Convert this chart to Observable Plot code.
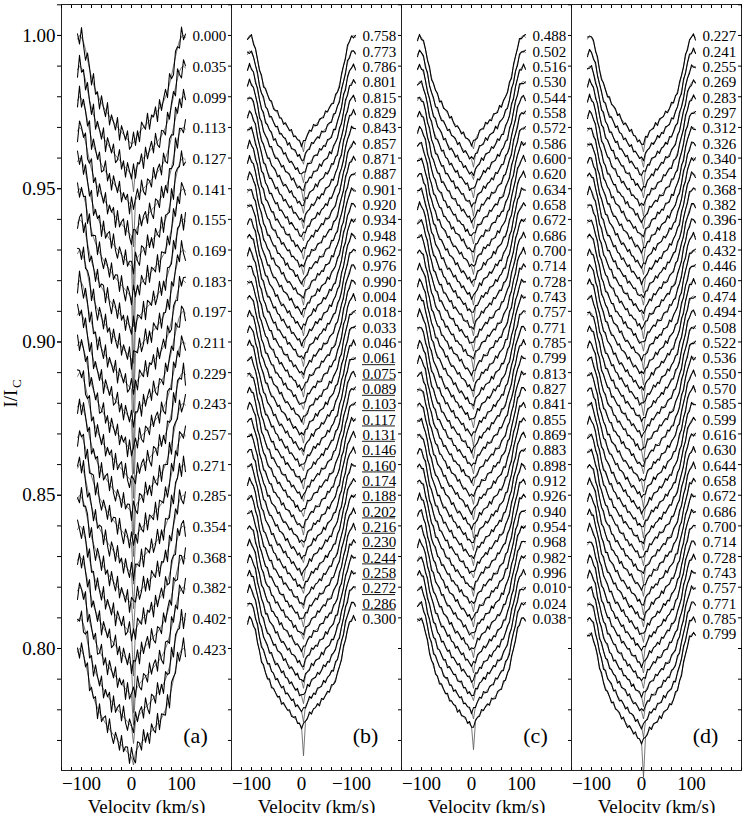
<!DOCTYPE html>
<html><head><meta charset="utf-8">
<script src="https://cdn.jsdelivr.net/npm/d3@7"></script>
<script src="https://cdn.jsdelivr.net/npm/@observablehq/plot@0.6"></script>
<style>
html,body{margin:0;padding:0;background:#fff;}
#wrap{position:relative;width:756px;height:813px;overflow:hidden;background:#fff;}
#wrap svg{position:absolute;top:0;}
</style></head><body><div id="wrap"></div>
<script>
// Velocity grid (km/s)
const velocity = [-108,-104,-100,-96,-92,-88,-84,-80,-76,-72,-68,-64,-60,-56,-52,-48,-44,-40,-36,-32,-28,-24,-20,-16,-12,-8,-4,0,4,8,12,16,20,24,28,32,36,40,44,48,52,56,60,64,68,72,76,80,84,88,92,96,100,104,108];
// Mean line depth below continuum (I/Ic units), read from the profiles
const baseDepth = [0.0012,0.0000,0.0006,0.0022,0.0046,0.0078,0.0110,0.0137,0.0159,0.0178,0.0194,0.0208,0.0221,0.0233,0.0244,0.0254,0.0264,0.0273,0.0282,0.0291,0.0299,0.0307,0.0315,0.0323,0.0331,0.0339,0.0347,0.0354,0.0350,0.0338,0.0325,0.0315,0.0307,0.0299,0.0292,0.0285,0.0278,0.0270,0.0262,0.0254,0.0246,0.0237,0.0227,0.0215,0.0200,0.0182,0.0159,0.0131,0.0100,0.0069,0.0040,0.0017,0.0004,0.0000,0.0006];
// Residual pattern of the observed spectra (relative units)
const noise = [0.5,-0.8,0.9,-0.3,-1.0,0.6,0.2,-0.7,1.0,-0.4,0.3,-0.9,0.7,-0.1,-0.6,1.0,-0.8,0.4,0.0,-0.5,0.9,-1.0,0.6,0.2,-0.3,0.8,-0.7,-0.2,1.0,-0.6,0.4,-0.9,0.7,0.1,-0.4,0.9,-0.8,0.3,-0.1,0.6,-1.0,0.8,-0.5,0.2,0.7,-0.6,1.0,-0.3,-0.8,0.5,0.1,-0.7,0.9,-0.4,0.3];

// Phase labels
const phasesA = ["0.000","0.035","0.099","0.113","0.127","0.141","0.155","0.169","0.183","0.197","0.211","0.229","0.243","0.257","0.271","0.285","0.354","0.368","0.382","0.402","0.423"];
const phasesB = ["0.758","0.773","0.786","0.801","0.815","0.829","0.843","0.857","0.871","0.887","0.901","0.920","0.934","0.948","0.962","0.976","0.990","0.004","0.018","0.033","0.046","0.061","0.075","0.089","0.103","0.117","0.131","0.146","0.160","0.174","0.188","0.202","0.216","0.230","0.244","0.258","0.272","0.286","0.300"];
const phasesC = ["0.488","0.502","0.516","0.530","0.544","0.558","0.572","0.586","0.600","0.620","0.634","0.658","0.672","0.686","0.700","0.714","0.728","0.743","0.757","0.771","0.785","0.799","0.813","0.827","0.841","0.855","0.869","0.883","0.898","0.912","0.926","0.940","0.954","0.968","0.982","0.996","0.010","0.024","0.038"];
const phasesD = ["0.227","0.241","0.255","0.269","0.283","0.297","0.312","0.326","0.340","0.354","0.368","0.382","0.396","0.418","0.432","0.446","0.460","0.474","0.494","0.508","0.522","0.536","0.550","0.570","0.585","0.599","0.616","0.630","0.644","0.658","0.672","0.686","0.700","0.714","0.728","0.743","0.757","0.771","0.785","0.799"];
const underlinedB = ["0.061","0.075","0.089","0.103","0.117","0.131","0.146","0.160","0.174","0.188","0.202","0.216","0.230","0.244","0.258","0.272","0.286"];

// Narrow central component of the model profiles (units of 0.001 I/Ic)
const spikeA = [0,6,14,18,20,22,20,18,20,18,16,18,15,14,12,10,14,16,10,6,3];
const notchB = [3,2,3,4,3,3,2,3,3,2,3,2,3,2,3,2,3,2,2,3,2,2,3,2,2,3,2,2,3,2,2,3,2,3,2,3,3,4,10];
const notchC = [2,3,2,3,4,3,3,4,3,2,3,4,3,3,4,3,3,2,3,4,3,3,2,3,3,4,3,3,2,3,3,3,2,3,3,3,2,3,8];
const notchD = [3,3,4,3,4,3,4,4,3,4,3,3,4,3,4,4,5,4,4,5,4,3,4,4,3,4,3,3,4,3,4,3,3,4,3,3,4,3,4,12];

const panelLetters = ["(a)","(b)","(c)","(d)"];
const yTickLabels = [0.80,0.85,0.90,0.95,1.00];
const yMinorTicks = [0.77,0.78,0.79,0.80,0.81,0.82,0.83,0.84,0.85,0.86,0.87,0.88,0.89,0.90,0.91,0.92,0.93,0.94,0.95,0.96,0.97,0.98,0.99,1.00,1.01];
const xTickValues = [-100,0,100];
const xTickTextNormal = ["−100","0","100"];
const xTickTextB = ["−100","0","−100"];
const xMinorTicks = [-140,-120,-100,-80,-60,-40,-20,0,20,40,60,80,100,120,140,160,180,200];
const xLabel = "Velocity (km/s)";

const FONT = "'Liberation Serif','Times New Roman',Times,serif";
const Y_DOMAIN = [0.7602, 1.0101];
const X_DOMAIN = [-140, 200];

function buildRows(phases, step, amp, central, seed) {
  const obs = [], mod = [];
  phases.forEach((p, i) => {
    const c = 1 - i * step;
    velocity.forEach((v, k) => {
      const n = noise[(k + i * 7 + seed) % noise.length];
      obs.push({v, f: c - baseDepth[k] + amp * n, i});
      const extra = v === 4 ? central[i] * 0.001 : 0;
      mod.push({v, f: c - baseDepth[k] - extra, i});
    });
  });
  return {obs, mod};
}

function panel({phases, step, amp, central, seed, letter, xTexts, ml, width, left, underlined, yAxis}) {
  const {obs, mod} = buildRows(phases, step, amp, central, seed);
  const marks = [
    Plot.line(mod, {x: "v", y: "f", z: "i", stroke: "#555", strokeWidth: 0.8}),
    Plot.line(obs, {x: "v", y: "f", z: "i", stroke: "#000", strokeWidth: 1.05}),
    Plot.text(phases, {x: 122, y: (d, i) => 1 - i * step - 0.0004, text: d => d, textAnchor: "start", fontSize: 15}),
    Plot.text([letter], {x: 128, y: 0.7716, text: d => d, textAnchor: "middle", fontSize: 22}),
    Plot.frame({stroke: "#222", strokeWidth: 1}),
    Plot.axisX({anchor: "bottom", ticks: xMinorTicks, tickSize: -3, tickFormat: () => "", label: null}),
    Plot.axisX({anchor: "top", ticks: xMinorTicks, tickSize: -3, tickFormat: () => "", label: null}),
    Plot.axisY({anchor: "right", ticks: yMinorTicks, tickSize: -4, tickFormat: () => "", label: null}),
    Plot.text(xTickValues, {x: d => d, text: (d, i) => xTexts[i], frameAnchor: "bottom", dy: 19, fontSize: 19}),
    Plot.text([xLabel], {frameAnchor: "bottom", dy: 42, text: d => d, fontSize: 19})
  ];
  if (underlined) {
    const idx = underlined.map(s => phases.indexOf(s));
    marks.push(Plot.ruleY(idx, {y: i => 1 - i * step - 0.0024, x1: 122, x2: 188, stroke: "#000", strokeWidth: 0.9}));
  }
  if (yAxis) {
    marks.push(Plot.axisY({anchor: "left", ticks: yMinorTicks, tickSize: 4, tickFormat: () => "", label: null}));
    marks.push(Plot.axisY({anchor: "left", ticks: yTickLabels, tickSize: 4, tickPadding: 2, tickFormat: d => d.toFixed(2), label: null, fontSize: 19}));
    marks.push(Plot.text(["I/I"], {frameAnchor: "left", dx: -45, y: 0.8786, text: d => d, rotate: -90, textAnchor: "start", lineAnchor: "bottom", fontSize: 19}));
    marks.push(Plot.text(["C"], {frameAnchor: "left", dx: -41, y: 0.8850, text: d => d, rotate: -90, textAnchor: "start", lineAnchor: "bottom", fontSize: 13}));
  }
  const svg = Plot.plot({
    width, height: 813,
    marginLeft: ml, marginRight: 1, marginTop: 4, marginBottom: 43,
    x: {domain: X_DOMAIN, axis: null},
    y: {domain: Y_DOMAIN, axis: null},
    style: {fontFamily: FONT, fontSize: "19px", background: "transparent", overflow: "visible", color: "#000"},
    marks
  });
  svg.style.left = left + "px";
  svg.style.maxWidth = "none";
  document.getElementById("wrap").appendChild(svg);
}

panel({phases: phasesA, step: 0.01, amp: 0.0035, central: spikeA, seed: 0, letter: panelLetters[0], xTexts: xTickTextNormal, ml: 61, width: 232, left: 0, yAxis: true});
panel({phases: phasesB, step: 0.005, amp: 0.0009, central: notchB, seed: 13, letter: panelLetters[1], xTexts: xTickTextB, ml: 1, width: 172, left: 230, underlined: underlinedB});
panel({phases: phasesC, step: 0.005, amp: 0.0009, central: notchC, seed: 29, letter: panelLetters[2], xTexts: xTickTextNormal, ml: 1, width: 172, left: 400});
panel({phases: phasesD, step: 0.005, amp: 0.0009, central: notchD, seed: 41, letter: panelLetters[3], xTexts: xTickTextNormal, ml: 1, width: 172, left: 570});
</script></body></html>
